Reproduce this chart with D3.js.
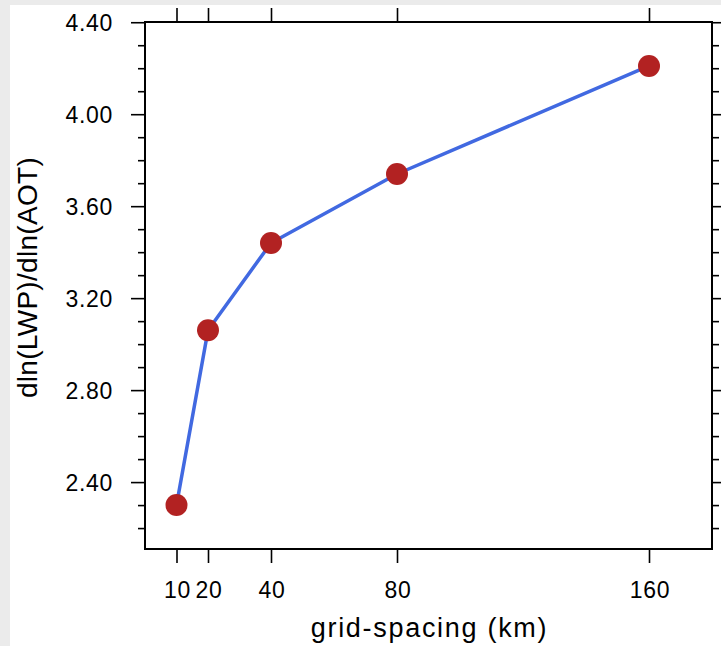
<!DOCTYPE html>
<html>
<head>
<meta charset="utf-8">
<script src="https://cdn.jsdelivr.net/npm/d3@7"></script>
<style>
  html, body { margin: 0; padding: 0; background: #ebebeb; }
  svg { display: block; }
  text { font-family: "Liberation Sans", Arial, Helvetica, sans-serif; fill: #000; }
</style>
</head>
<body>
<script>
// ---- data ----
const gridSpacing = [10, 20, 40, 80, 160];
const slopeValues = [2.30, 3.06, 3.44, 3.74, 4.21];
const xTickValues = [10, 20, 40, 80, 160];
const yTickValues = [2.40, 2.80, 3.20, 3.60, 4.00, 4.40];
const yMinorTickValues = [2.2, 2.3, 2.5, 2.6, 2.7, 2.9, 3.0, 3.1, 3.3, 3.4, 3.5, 3.7, 3.8, 3.9, 4.1, 4.2, 4.3];
const xDomain = [0, 180];
const xTitle = "grid-spacing (km)";
const yTitle = "dln(LWP)/dln(AOT)";

(function () {
// ---- layout ----
const W = 721, H = 646;
const pL = 145, pR = 712, pT = 22, pB = 549;

const svg = d3.select("body").append("svg").attr("width", W).attr("height", H);
svg.append("rect").attr("x", 0).attr("y", 0).attr("width", W).attr("height", H).attr("fill", "#ebebeb");
svg.append("rect").attr("x", 10).attr("y", 5).attr("width", W - 10).attr("height", H - 5).attr("fill", "#ffffff");

const yExt = d3.extent(slopeValues);
const pad = (yExt[1] - yExt[0]) * 0.1;
const x = d3.scaleLinear().domain(xDomain).range([pL, pR]);
const y = d3.scaleLinear().domain([yExt[0] - pad, yExt[1] + pad]).range([pB, pT]);

function styleAxis(g) {
  g.select(".domain").remove();
  g.selectAll(".tick line").attr("stroke", "#000").attr("stroke-width", 1.6);
}

// minor y ticks (left & right)
svg.append("g").attr("transform", `translate(${pL},0)`)
  .call(d3.axisLeft(y).tickValues(yMinorTickValues).tickSize(7).tickFormat(""))
  .call(styleAxis);
svg.append("g").attr("transform", `translate(${pR},0)`)
  .call(d3.axisRight(y).tickValues(yMinorTickValues).tickSize(7).tickFormat(""))
  .call(styleAxis);

// major y ticks
const yAxisL = svg.append("g").attr("transform", `translate(${pL},0)`)
  .call(d3.axisLeft(y).tickValues(yTickValues).tickSize(14).tickPadding(0).tickFormat(d3.format(".2f")))
  .call(styleAxis);
yAxisL.selectAll(".tick text")
  .attr("x", -32).attr("dy", "0.36em")
  .style("font-size", "23px").style("letter-spacing", "0.7px");
svg.append("g").attr("transform", `translate(${pR},0)`)
  .call(d3.axisRight(y).tickValues(yTickValues).tickSize(14).tickFormat(""))
  .call(styleAxis);

// x ticks bottom & top
const xAxisB = svg.append("g").attr("transform", `translate(0,${pB})`)
  .call(d3.axisBottom(x).tickValues(xTickValues).tickSize(14).tickFormat(d3.format("d")))
  .call(styleAxis);
xAxisB.selectAll(".tick text")
  .attr("y", 48.5).attr("dy", null).attr("dx", "0.4px")
  .style("font-size", "23px").style("letter-spacing", "0.7px");
svg.append("g").attr("transform", `translate(0,${pT})`)
  .call(d3.axisTop(x).tickValues(xTickValues).tickSize(14).tickFormat(""))
  .call(styleAxis);

// plot frame
svg.append("rect").attr("x", pL).attr("y", pT)
  .attr("width", pR - pL).attr("height", pB - pT)
  .attr("fill", "none").attr("stroke", "#000").attr("stroke-width", 2);

// line
const pts = gridSpacing.map((g, i) => [g, slopeValues[i]]);
svg.append("path").datum(pts)
  .attr("fill", "none").attr("stroke", "#4169e1").attr("stroke-width", 3.5)
  .attr("stroke-linejoin", "round")
  .attr("d", d3.line().x(d => x(d[0])).y(d => y(d[1])));

// markers
svg.selectAll("circle.pt").data(pts).enter().append("circle")
  .attr("class", "pt")
  .attr("cx", d => x(d[0])).attr("cy", d => y(d[1]))
  .attr("r", 11).attr("fill", "#b22222");

// titles
svg.append("text").attr("x", (pL + pR) / 2 + 1).attr("y", 637)
  .attr("text-anchor", "middle").style("font-size", "27px").style("letter-spacing", "1.7px")
  .text(xTitle);
svg.append("text")
  .attr("transform", `translate(37,${(pT + pB) / 2 - 8}) rotate(-90)`)
  .attr("text-anchor", "middle").style("font-size", "28px").style("letter-spacing", "0.3px")
  .text(yTitle);
})();
</script>
</body>
</html>
